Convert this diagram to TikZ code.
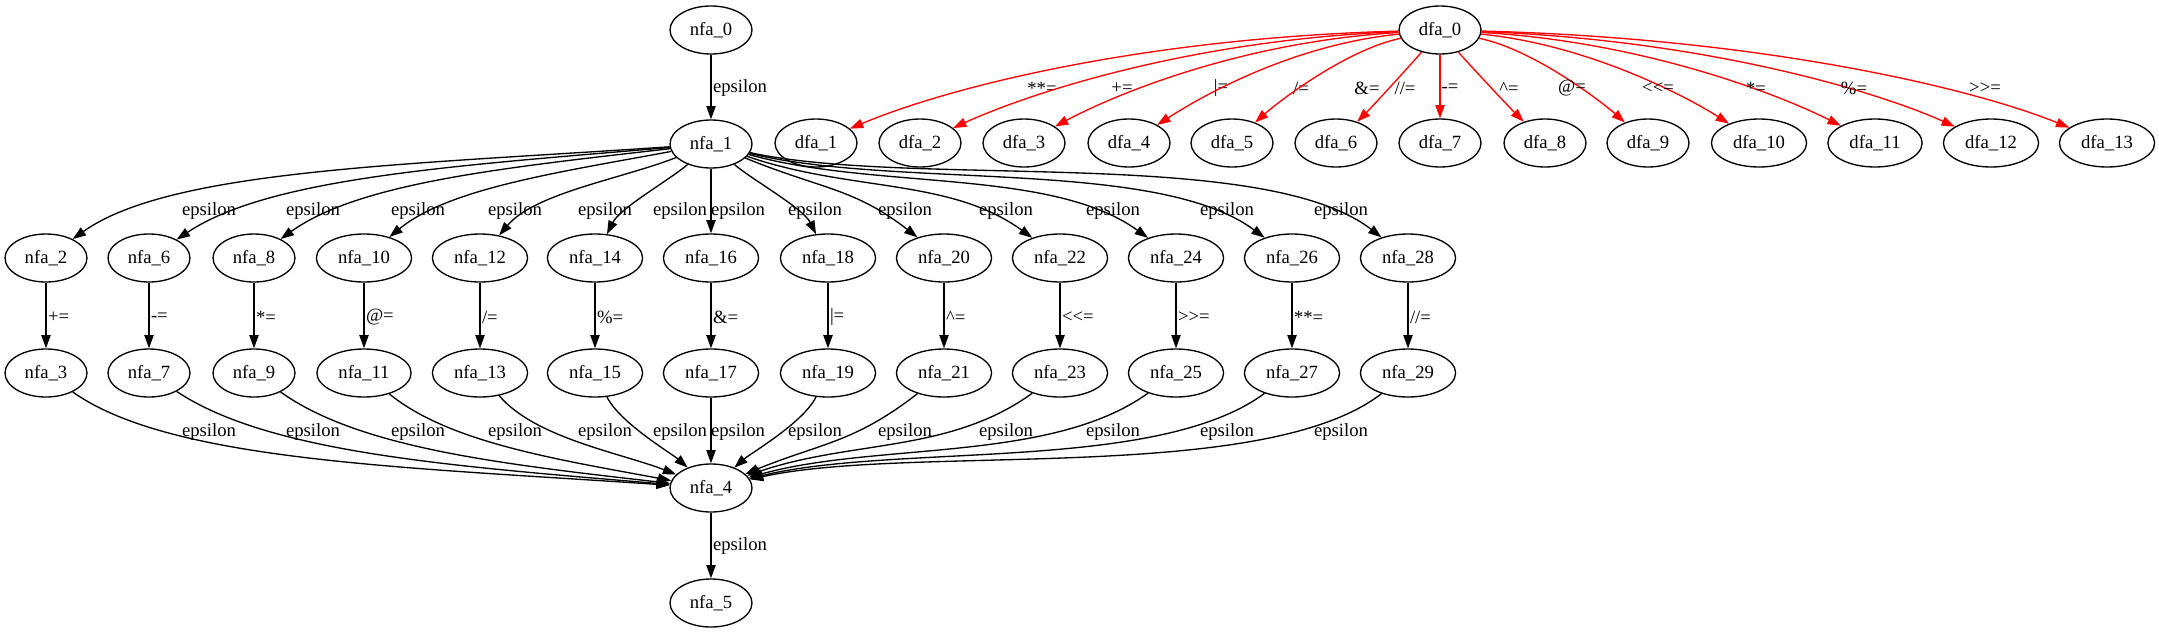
\documentclass[tikz,border=0pt]{standalone}
\usepackage{fontspec}
\setmainfont{Liberation Serif}
\usetikzlibrary{arrows.meta,shapes.geometric}
\tikzset{
  state/.style={draw, ellipse, line width=1pt, minimum height=36pt, inner xsep=5.8pt, inner ysep=0pt},
  trans/.style={line width=1pt, -{Triangle[length=10pt,width=7pt]}},
  dtrans/.style={trans, red},
  lbl/.style={anchor=west, inner sep=1pt}
}
% nfa branch: x, upper, lower, op, out ctrl (dx,dy), in ctrl (dx,dy), label x
\def\nfabranch(#1,#2,#3,#4,#5,#6,#7,#8,#9){
  \node[state] (nfa#2) at (#1,-258) {nfa\_#2};
  \node[state] (nfa#3) at (#1,-373) {nfa\_#3};
  \draw[trans] (nfa#2) -- (nfa#3) node[lbl] at (#1,-317) {#4};
  \draw[trans] (nfa1) .. controls +(#5,-#6) and +(#7,#8) .. (nfa#2) node at (#9,-211) {epsilon};
  \draw[trans] (nfa#3) .. controls +(#7,-#8) and +(#5,#6) .. (nfa4) node at (#9,-432) {epsilon};
}
% dfa target: x, index, op, out ctrl (dx,dy), in ctrl (dx,dy), label x
\def\dfabranch(#1,#2,#3,#4,#5,#6,#7,#8){
  \node[state] (dfa#2) at (#1,-143) {dfa\_#2};
  \draw[dtrans] (dfa0) .. controls +(#4,-#5) and +(#6,#7) .. (dfa#2) node[text=black] at (#8,-88) {#3};
}

\begin{document}
\begin{tikzpicture}[x=0.75pt, y=0.75pt, font=\fontsize{14}{16}\selectfont]
\useasboundingbox (0,0) rectangle (2159,-632);
\node[state] (nfa0) at (711,-30) {nfa\_0};
\node[state] (nfa1) at (711,-144) {nfa\_1};
\node[state] (nfa4) at (711,-488) {nfa\_4};
\node[state] (nfa5) at (711,-603) {nfa\_5};
\draw[trans] (nfa0) -- (nfa1) node[lbl] at (711,-88) {epsilon};
\draw[trans] (nfa4) -- (nfa5) node[lbl] at (711,-546) {epsilon};
\nfabranch(46,2,3,+=,-311,21,124,88,209)
\nfabranch(149,6,7,-=,-260,22,120,80,313)
\nfabranch(254,8,9,*=,-210,24,105,75,418)
\nfabranch(364,10,11,@=,-150,28,85,70,515)
\nfabranch(480,12,13,/=,-90,35,55,65,605)
\nfabranch(595,14,15,\%=,-40,35,25,50,680)
\nfabranch(711,16,17,\&=,0,30,0,30,738)
\nfabranch(828,18,19,|=,40,35,-25,50,815)
\nfabranch(944,20,21,\textasciicircum=,110,45,-90,70,905)
\nfabranch(1060,22,23,<{}<=,140,48,-110,80,1006)
\nfabranch(1176,24,25,>{}>=,165,46,-125,90,1113)
\nfabranch(1292,26,27,**=,185,45,-135,100,1227)
\nfabranch(1408,28,29,//=,200,44,-144,112,1341)
% dfa fan
\node[state] (dfa0) at (1440,-30) {dfa\_0};
\dfabranch(816,1,**=,-300,8,130,55,1042)
\dfabranch(920,2,+=,-250,10,110,50,1122)
\dfabranch(1024,3,|=,-200,12,90,48,1221)
\dfabranch(1129,4,/=,-150,15,70,45,1301)
\dfabranch(1232,5,\&=,-95,20,45,40,1367)
\dfabranch(1336,6,//=,-25,30,35,35,1405)
\dfabranch(1440,7,-=,0,40,0,40,1450)
\dfabranch(1545,8,\textasciicircum=,25,30,-35,35,1509)
\dfabranch(1648,9,@=,95,20,-45,40,1572)
\dfabranch(1759,10,<{}<=,150,15,-70,45,1658)
\dfabranch(1875,11,*=,205,12,-95,48,1756)
\dfabranch(1991,12,\%=,265,10,-115,52,1854)
\dfabranch(2107,13,>{}>=,320,8,-135,55,1985)
\end{tikzpicture}
\end{document}
